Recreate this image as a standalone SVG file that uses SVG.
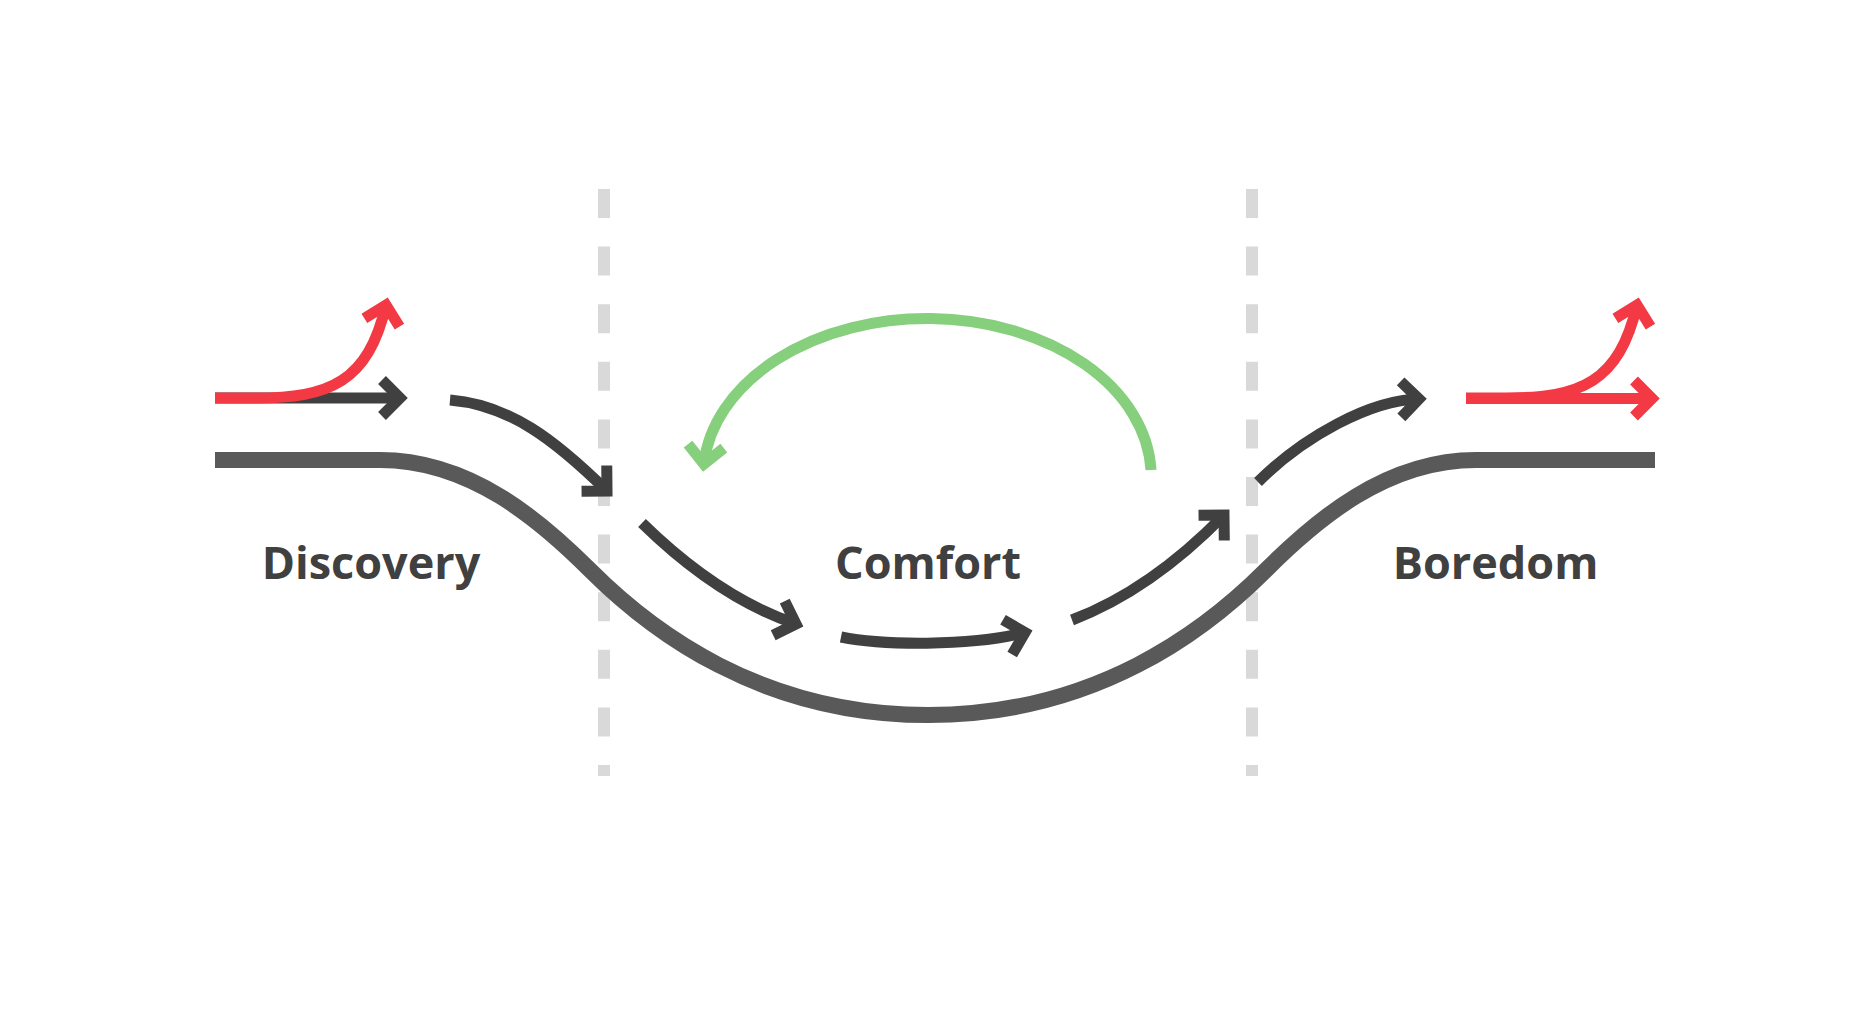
<svg xmlns="http://www.w3.org/2000/svg" width="1856" height="1024" viewBox="0 0 1856 1024">
  <style>
    .label { font-family: "Open Sans", "Noto Sans", "Liberation Sans", sans-serif; font-weight: 700; font-size: 45px; fill: #404040; text-anchor: middle; }
    .divider { stroke: #d9d9d9; stroke-width: 12; stroke-dasharray: 29 28.6; fill: none; }
    .flow { stroke: #595959; stroke-width: 16; fill: none; }
    .arr { fill: none; stroke-width: 11; stroke-linecap: butt; stroke-linejoin: miter; }
    .dark { stroke: #404040; marker-end: url(#ah-dark); }
    .red { stroke: #f33a44; marker-end: url(#ah-red); }
    .green { stroke: #86cf7c; marker-end: url(#ah-green); }
  </style>
  <defs>
    <marker id="ah-dark" markerUnits="userSpaceOnUse" orient="auto" viewBox="-30 -30 60 60" markerWidth="60" markerHeight="60" refX="0" refY="0" overflow="visible">
      <path d="M-18,-18 L0,0 L-18,18" fill="none" stroke="#404040" stroke-width="11" stroke-linejoin="miter"/>
    </marker>
    <marker id="ah-red" markerUnits="userSpaceOnUse" orient="auto" viewBox="-30 -30 60 60" markerWidth="60" markerHeight="60" refX="0" refY="0" overflow="visible">
      <path d="M-18,-18 L0,0 L-18,18" fill="none" stroke="#f33a44" stroke-width="11" stroke-linejoin="miter"/>
    </marker>
    <marker id="ah-green" markerUnits="userSpaceOnUse" orient="auto" viewBox="-30 -30 60 60" markerWidth="60" markerHeight="60" refX="0" refY="0" overflow="visible">
      <path d="M-18,-18 L0,0 L-18,18" fill="none" stroke="#86cf7c" stroke-width="11" stroke-linejoin="miter"/>
    </marker>
  </defs>
  <rect width="1856" height="1024" fill="#ffffff"/>
  <g id="dividers">
    <line class="divider" x1="604" y1="189" x2="604" y2="776"/>
    <line class="divider" x1="1252" y1="189" x2="1252" y2="776"/>
  </g>
  <g id="flow-curve">
    <path class="flow" d="M215,460 H380 C470,460 540,520 590,570 C650,630 760,715 928,715 C1096,715 1206,630 1266,570 C1316,520 1386,460 1476,460 H1655"/>
  </g>
  <g id="discovery">
    <text class="label" x="371" y="579">Discovery</text>
  </g>
  <g id="comfort">
    <text class="label" x="928" y="579">Comfort</text>
  </g>
  <g id="boredom">
    <text class="label" x="1495.5" y="579">Boredom</text>
  </g>
  <g id="connectors">
    <path class="arr dark" d="M215,398 H400"/>
    <path class="arr red" d="M215,398 H255 C330,398 368,382 386,305"/>
    <path class="arr dark" d="M450,400 C510,405 555,440 607,491"/>
    <path class="arr dark" d="M642,523 C690,570 740,605 796,624"/>
    <path class="arr dark" d="M841,637 C880,645 970,647 1025,632.5"/>
    <path class="arr dark" d="M1072,620 C1130,598 1180,560 1224,515"/>
    <path class="arr green" d="M1151,470 A224,158 0 0 0 703.9,464"/>
    <path class="arr dark" d="M1258,482 C1303,437 1370,400 1419,399"/>
    <path class="arr red" d="M1466,398.5 H1652"/>
    <path class="arr red" d="M1466,398 H1506 C1581,398 1619,382 1637,305"/>
  </g>
</svg>
